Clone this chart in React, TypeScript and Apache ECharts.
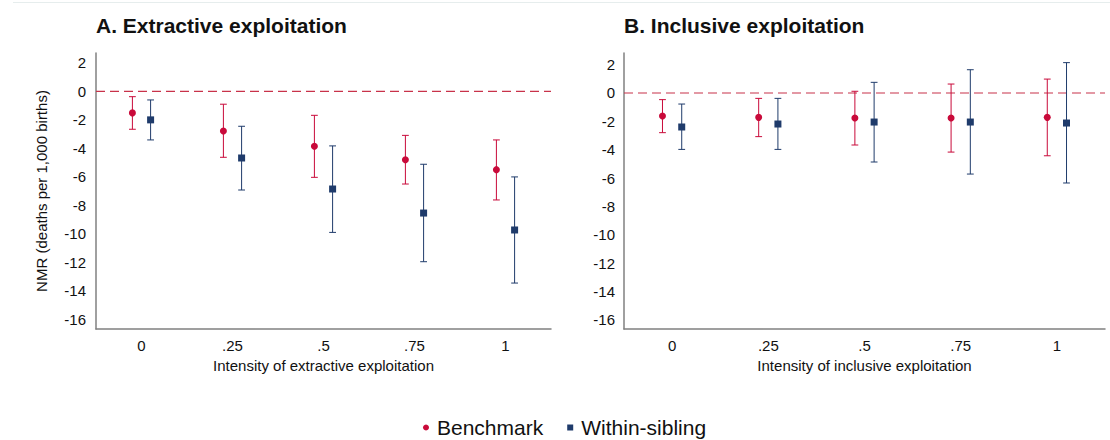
import React, { useEffect, useRef } from "react";
import * as echarts from "echarts";

const xVals = [0, 0.25, 0.5, 0.75, 1];
const xTickLabels = ["0", ".25", ".5", ".75", "1"];
const yTicks = [-16, -14, -12, -10, -8, -6, -4, -2, 0, 2];

// Panel A: extractive exploitation
const benchA = [-1.51, -2.78, -3.86, -4.8, -5.5];
const benchALo = [-2.66, -4.63, -6.04, -6.51, -7.63];
const benchAHi = [-0.37, -0.9, -1.68, -3.09, -3.41];
const sibA = [-2.0, -4.68, -6.86, -8.55, -9.74];
const sibALo = [-3.41, -6.93, -9.91, -11.97, -13.47];
const sibAHi = [-0.6, -2.45, -3.83, -5.12, -6.01];

// Panel B: inclusive exploitation
const benchB = [-1.63, -1.72, -1.77, -1.77, -1.72];
const benchBLo = [-2.8, -3.08, -3.67, -4.17, -4.43];
const benchBHi = [-0.47, -0.38, 0.12, 0.63, 0.98];
const sibB = [-2.4, -2.19, -2.05, -2.05, -2.12];
const sibBLo = [-3.98, -3.98, -4.87, -5.72, -6.35];
const sibBHi = [-0.78, -0.38, 0.75, 1.64, 2.14];

const benchOffset = -0.025;
const sibOffset = 0.025;

const RED = "#c90a3a";
const NAVY = "#1f3b6b";
const ZERO_RED = "#c8324a";
const FONT = "Arial, 'Liberation Sans', sans-serif";

function errSeries(name: string, idx: number, vals: number[], lo: number[], hi: number[], off: number, color: string) {
  return {
    type: "custom",
    name,
    xAxisIndex: idx,
    yAxisIndex: idx,
    z: 3,
    data: vals.map((_, i) => [xVals[i] + off, lo[i], hi[i]]),
    encode: { x: 0, y: [1, 2] },
    renderItem: (params: any, api: any) => {
      const x = api.value(0);
      const pLo = api.coord([x, api.value(1)]);
      const pHi = api.coord([x, api.value(2)]);
      const cap = 3.4;
      const style = { stroke: color, lineWidth: 1 };
      return {
        type: "group",
        children: [
          { type: "line", shape: { x1: pLo[0], y1: pLo[1], x2: pHi[0], y2: pHi[1] }, style },
          { type: "line", shape: { x1: pLo[0] - cap, y1: pLo[1], x2: pLo[0] + cap, y2: pLo[1] }, style },
          { type: "line", shape: { x1: pHi[0] - cap, y1: pHi[1], x2: pHi[0] + cap, y2: pHi[1] }, style },
        ],
      };
    },
  };
}

function pointSeries(name: string, idx: number, vals: number[], off: number, color: string, symbol: string, size: number) {
  return {
    type: "scatter",
    name,
    xAxisIndex: idx,
    yAxisIndex: idx,
    z: 5,
    symbol,
    symbolSize: size,
    itemStyle: { color, opacity: 1 },
    data: vals.map((v, i) => [xVals[i] + off, v]),
  };
}

function zeroLine(idx: number) {
  return {
    type: "line",
    name: "zero" + idx,
    xAxisIndex: idx,
    yAxisIndex: idx,
    z: 1,
    symbol: "none",
    silent: true,
    data: [[-0.125, 0], [1.125, 0]],
    lineStyle: { color: ZERO_RED, type: [9, 5], width: 1.2 },
    itemStyle: { color: ZERO_RED },
  };
}

function xAxisDef(idx: number, name: string) {
  return {
    type: "value",
    gridIndex: idx,
    min: -0.125,
    max: 1.125,
    name,
    nameLocation: "middle",
    nameGap: 29,
    nameTextStyle: { fontSize: 15, color: "#111", fontFamily: FONT },
    axisLine: { show: true, onZero: false, lineStyle: { color: "#808080", width: 1.5 } },
    axisTick: { show: false },
    splitLine: { show: false },
    axisLabel: {
      customValues: xVals,
      fontSize: 15,
      color: "#111",
      fontFamily: FONT,
      margin: 9,
      formatter: (v: number) => {
        const i = xVals.findIndex((x) => Math.abs(x - v) < 1e-9);
        return i >= 0 ? xTickLabels[i] : "";
      },
    },
  };
}

function yAxisDef(idx: number, min: number, max: number, name: string, margin: number) {
  return {
    type: "value",
    gridIndex: idx,
    min,
    max,
    name,
    nameLocation: "middle",
    nameGap: 47,
    nameTextStyle: { fontSize: 15, color: "#111", fontFamily: FONT },
    axisLine: { show: true, onZero: false, lineStyle: { color: "#808080", width: 1.5 } },
    axisTick: { show: false },
    splitLine: { show: false },
    axisLabel: {
      customValues: yTicks,
      fontSize: 15,
      color: "#111",
      fontFamily: FONT,
      margin,
      formatter: (v: number) => String(v),
    },
  };
}

export default function App() {
  const ref = useRef<HTMLDivElement>(null);
  useEffect(() => {
    document.body.style.margin = "0";
    if (!ref.current) return;
    const chart = echarts.init(ref.current, null, { renderer: "svg" });
    chart.setOption({
      animation: false,
      backgroundColor: "#ffffff",
      textStyle: { fontFamily: FONT },
      title: [
        { text: "A. Extractive exploitation", left: 96, top: 15, padding: 0, textStyle: { fontSize: 21, fontWeight: "bold", color: "#111", fontFamily: FONT } },
        { text: "B. Inclusive exploitation", left: 624, top: 15, padding: 0, textStyle: { fontSize: 21, fontWeight: "bold", color: "#111", fontFamily: FONT } },
      ],
      graphic: [
        { type: "line", shape: { x1: 13, y1: 2.5, x2: 1110, y2: 2.5 }, style: { stroke: "#e6eded", lineWidth: 1 }, silent: true },
      ],
      legend: {
        left: 418,
        top: 412,
        itemWidth: 6,
        itemHeight: 6,
        itemGap: 24,
        textStyle: { fontSize: 21, color: "#111", fontFamily: FONT, padding: [0, 0, 0, 3] },
        data: [
          { name: "Benchmark", icon: "circle", itemStyle: { color: RED } },
          { name: "Within-sibling", icon: "rect", itemStyle: { color: NAVY } },
        ],
      },
      grid: [
        { left: 96, top: 53, width: 455, height: 276 },
        { left: 624, top: 53, width: 481, height: 276 },
      ],
      xAxis: [
        xAxisDef(0, "Intensity of extractive exploitation"),
        xAxisDef(1, "Intensity of inclusive exploitation"),
      ],
      yAxis: [
        yAxisDef(0, -16.7, 2.7, "NMR (deaths per 1,000 births)", 10),
        yAxisDef(1, -16.65, 2.82, "", 9),
      ],
      series: [
        zeroLine(0),
        errSeries("Benchmark CI A", 0, benchA, benchALo, benchAHi, benchOffset, RED),
        errSeries("Within CI A", 0, sibA, sibALo, sibAHi, sibOffset, NAVY),
        pointSeries("Benchmark", 0, benchA, benchOffset, RED, "circle", 7),
        pointSeries("Within-sibling", 0, sibA, sibOffset, NAVY, "rect", 7),
        zeroLine(1),
        errSeries("Benchmark CI B", 1, benchB, benchBLo, benchBHi, benchOffset, RED),
        errSeries("Within CI B", 1, sibB, sibBLo, sibBHi, sibOffset, NAVY),
        pointSeries("Benchmark", 1, benchB, benchOffset, RED, "circle", 7),
        pointSeries("Within-sibling", 1, sibB, sibOffset, NAVY, "rect", 7),
      ],
    });
    return () => chart.dispose();
  }, []);
  return <div ref={ref} style={{ position: "fixed", left: 0, top: 0, width: 1110, height: 440 }} />;
}
